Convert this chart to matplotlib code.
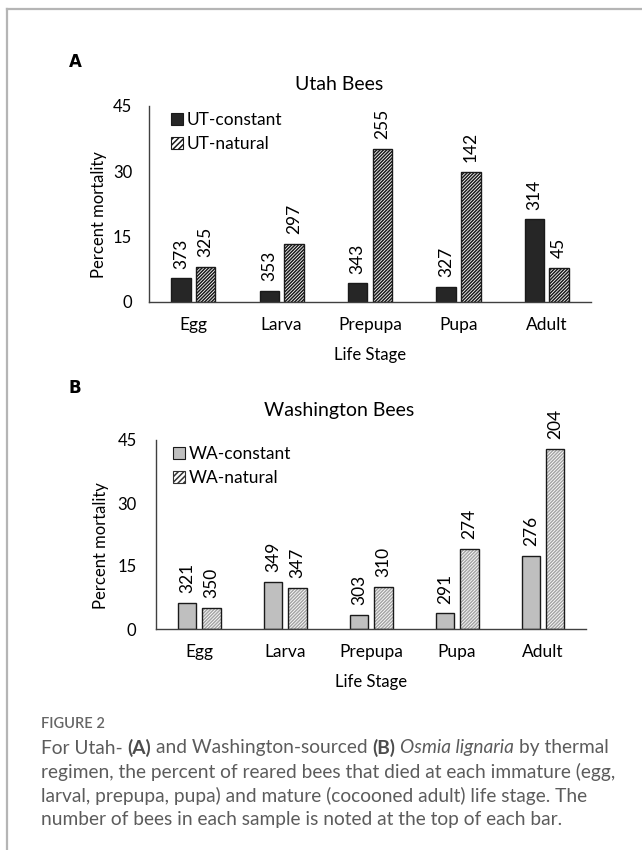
import matplotlib
matplotlib.use("Agg")
import matplotlib.pyplot as plt
from matplotlib.patches import Patch
from matplotlib.lines import Line2D
import numpy as np

plt.rcParams["font.family"] = ["Lato", "DejaVu Sans"]
plt.rcParams["hatch.linewidth"] = 1.1

W, H = 642, 850

stages = ["Egg", "Larva", "Prepupa", "Pupa", "Adult"]

# percent mortality per life stage, Utah bees
ut_constant = [5.4, 2.6, 4.3, 3.4, 19.0]
ut_natural = [8.1, 13.3, 35.2, 29.9, 7.8]
ut_constant_n = [373, 353, 343, 327, 314]
ut_natural_n = [325, 297, 255, 142, 45]

# percent mortality per life stage, Washington bees
wa_constant = [6.3, 11.3, 3.3, 3.7, 17.5]
wa_natural = [5.0, 9.8, 10.0, 19.1, 42.9]
wa_constant_n = [321, 349, 303, 291, 276]
wa_natural_n = [350, 347, 310, 274, 204]

yticks = [0, 15, 30, 45]

caption_lines = [
    [("For Utah-", "n"), ("(A)", "b"), ("and Washington-sourced", "n"), ("(B)", "b"),
     ("Osmia lignaria", "i"), ("by thermal", "n")],
    [("regimen, the percent of reared bees that died at each immature (egg,", "n")],
    [("larval, prepupa, pupa) and mature (cocooned adult) life stage. The", "n")],
    [("number of bees in each sample is noted at the top of each bar.", "n")],
]


def fx(x):
    return x / W


def fy(y):
    return 1 - y / H


def panel(ax, const, nat, const_n, nat_n, const_color, hatch_color, ypad, ylab_xy):
    x = np.arange(len(stages))
    w, off = 0.22, 0.14
    ax.bar(x - off, const, w, color=const_color, edgecolor="#1a1a1a", linewidth=1.0)
    # hatch first in its own colour, then the outline on top
    ax.bar(x + off, nat, w, color="white", edgecolor=hatch_color, hatch="//////////",
           linewidth=0)
    ax.bar(x + off, nat, w, color="none", edgecolor="#1a1a1a", linewidth=1.0)
    for xi, v, n in zip(x - off, const, const_n):
        ax.annotate(str(n), (xi, v), xytext=(0, 7), textcoords="offset points",
                    rotation=90, ha="center", va="bottom", fontsize=12.5)
    for xi, v, n in zip(x + off, nat, nat_n):
        ax.annotate(str(n), (xi, v), xytext=(0, 7), textcoords="offset points",
                    rotation=90, ha="center", va="bottom", fontsize=12.5)
    ax.set_xlim(-0.5, len(stages) - 0.5)
    ax.set_ylim(0, 45)
    ax.set_yticks(yticks)
    ax.set_xticks(x)
    ax.set_xticklabels(stages)
    ax.tick_params(axis="both", length=0)
    ax.tick_params(axis="x", pad=11, labelsize=12.5)
    ax.tick_params(axis="y", pad=ypad, labelsize=12)
    for s in ["top", "right"]:
        ax.spines[s].set_visible(False)
    for s in ["left", "bottom"]:
        ax.spines[s].set_color("#404040")
        ax.spines[s].set_linewidth(1.0)
    ax.set_ylabel("Percent mortality", fontsize=12)
    ax.yaxis.set_label_coords(*ylab_xy)
    ax.set_xlabel("Life Stage", fontsize=12, labelpad=10)
    handles = [
        Patch(facecolor=const_color, edgecolor="#1a1a1a", linewidth=0.8),
        Patch(facecolor="white", edgecolor="#1a1a1a", hatch="//////", linewidth=0.8),
    ]
    return handles


fig = plt.figure(figsize=(W / 100, H / 100), dpi=100)

# page frame
fig.add_artist(Line2D([fx(7), fx(7)], [fy(9), 0], color="#b5b5b5", lw=1.6))
fig.add_artist(Line2D([fx(7), 1], [fy(9), fy(9)], color="#b5b5b5", lw=1.6))

axA = fig.add_axes([fx(149), fy(302), fx(591 - 149), 196 / H])
hA = panel(axA, ut_constant, ut_natural, ut_constant_n, ut_natural_n,
           "#262626", "#1a1a1a", 12, (-0.095, 0.446))
axA.legend(hA, ["UT-constant", "UT-natural"], loc="upper left",
           bbox_to_anchor=(fx(171), fy(112)), bbox_transform=fig.transFigure,
           frameon=False, fontsize=12.5, handlelength=0.7, handleheight=0.7,
           handletextpad=0.2, labelspacing=0.45, borderpad=0, borderaxespad=0)

axB = fig.add_axes([fx(156), fy(629), fx(586 - 156), 189 / H])
hB = panel(axB, wa_constant, wa_natural, wa_constant_n, wa_natural_n,
           "#bfbfbf", "#a6a6a6", 14, (-0.109, 0.44))
hB[1].set_edgecolor("#333333")
axB.legend(hB, ["WA-constant", "WA-natural"], loc="upper left",
           bbox_to_anchor=(fx(173), fy(446)), bbox_transform=fig.transFigure,
           frameon=False, fontsize=12.5, handlelength=0.7, handleheight=0.7,
           handletextpad=0.2, labelspacing=0.45, borderpad=0, borderaxespad=0)

fig.text(fx(339), fy(84), "Utah Bees", ha="center", va="center", fontsize=14)
fig.text(fx(339), fy(410), "Washington Bees", ha="center", va="center", fontsize=14)
fig.text(fx(69), fy(62), "A", ha="left", va="center", fontsize=12,
         fontweight="bold", family=["DejaVu Sans"])
fig.text(fx(69), fy(388), "B", ha="left", va="center", fontsize=12,
         fontweight="bold", family=["DejaVu Sans"])

# caption
cap_color = "#5c5c5c"
fig.text(fx(41), fy(724), "FIGURE 2", ha="left", va="center", fontsize=10.5,
         color="#666666", fontweight="semibold")

renderer = fig.canvas.get_renderer()
cap_size = 13.8


def run_width(s, style):
    t = fig.text(0, 0, s, fontsize=cap_size,
                 fontweight="bold" if style == "b" else "normal",
                 fontstyle="italic" if style == "i" else "normal")
    wpx = t.get_window_extent(renderer).width
    t.remove()
    return wpx


space = run_width("a a", "n") - run_width("aa", "n")
line_y = [748, 772, 796, 820]
for runs, y in zip(caption_lines, line_y):
    x = 41
    for s, style in runs:
        fig.text(fx(x), fy(y), s, ha="left", va="center", fontsize=cap_size,
                 color="#4d4d4d" if style == "b" else cap_color,
                 fontweight="bold" if style == "b" else "normal",
                 fontstyle="italic" if style == "i" else "normal")
        x += run_width(s, style) + space

fig.savefig("out.png", dpi=100)
